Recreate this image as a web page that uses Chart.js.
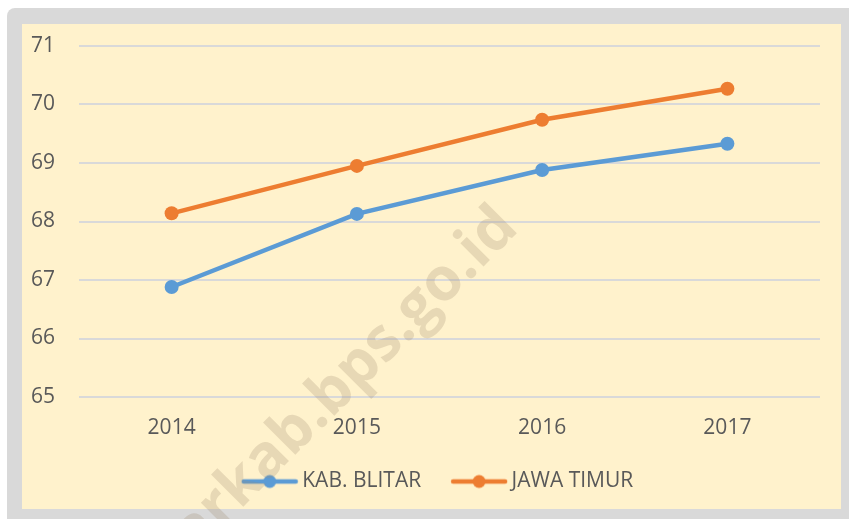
<!DOCTYPE html>
<html>
<head>
<meta charset="utf-8">
<script src="https://cdn.jsdelivr.net/npm/chart.js@4"></script>
<style>
  html, body { margin: 0; padding: 0; background: #ffffff; }
  #wrap { width: 849px; height: 519px; position: relative; }
</style>
</head>
<body>
<div id="wrap"><canvas id="ipm"></canvas></div>
<script>
// data
var years = ["2014", "2015", "2016", "2017"];
var kabBlitar = [66.88, 68.13, 68.88, 69.33];
var jawaTimur = [68.14, 68.95, 69.74, 70.27];
var yTicks = [65, 66, 67, 68, 69, 70, 71];

var blue = "#5B9BD5";
var orange = "#ED7D31";
var textColor = "#595959";
var font = "'Open Sans', 'Noto Sans', sans-serif";

// line+dot picture for the legend (shifted right so text sits close)
function legendIcon(color){
    var c = document.createElement("canvas");
    c.width = 70; c.height = 16;
    var g = c.getContext("2d");
    g.strokeStyle = color;
    g.lineWidth = 4.5;
    g.lineCap = "round";
    g.beginPath(); g.moveTo(15, 8); g.lineTo(67, 8); g.stroke();
    g.fillStyle = color;
    g.beginPath(); g.arc(41, 8, 6.5, 0, Math.PI * 2); g.fill();
    return c;
}

// frame + cream background
var framePlugin = {
    id: "frame",
    beforeDraw: function(chart){
        var ctx = chart.ctx;
        ctx.save();
        ctx.fillStyle = "#ffffff";
        ctx.fillRect(0, 0, chart.width, chart.height);
        ctx.fillStyle = "#D9D9D9";
        ctx.beginPath();
        ctx.roundRect(7, 8, chart.width + 20, chart.height + 20, 8);
        ctx.fill();
        ctx.fillStyle = "#FFF2CC";
        ctx.fillRect(22, 24, 819, 485);
        ctx.restore();
    }
};

// nudge the legend a bit to the right, like the original
var legendShift = {
    id: "legendShift",
    afterLayout: function(chart){
        if (chart.legend) { chart.legend.left += 27; }
    }
};

// watermark on top
var watermarkPlugin = {
    id: "watermark",
    afterDraw: function(chart){
        var ctx = chart.ctx;
        ctx.save();
        ctx.translate(520, 230);
        ctx.rotate(-Math.PI / 4);
        ctx.font = "bold 60px " + font;
        ctx.textAlign = "right";
        ctx.textBaseline = "alphabetic";
        ctx.fillStyle = "rgba(160, 140, 110, 0.25)";
        ctx.fillText("blitarkab.bps.go.id", 0, 0);
        ctx.restore();
    }
};

var ctx = document.getElementById("ipm");
var graph = new Chart(ctx, {
    type: "line",
    data: {
        labels: years,
        datasets: [{
            label: "KAB. BLITAR",
            data: kabBlitar,
            borderColor: blue,
            backgroundColor: blue,
            borderWidth: 4.5,
            pointRadius: 7,
            pointHoverRadius: 7,
            pointBorderWidth: 0,
            tension: 0
        }, {
            label: "JAWA TIMUR",
            data: jawaTimur,
            borderColor: orange,
            backgroundColor: orange,
            borderWidth: 4.5,
            pointRadius: 7,
            pointHoverRadius: 7,
            pointBorderWidth: 0,
            tension: 0
        }]
    },
    options: {
        responsive: true,
        maintainAspectRatio: false,
        animation: false,
        layout: {
            padding: { left: 22, right: 29, top: 46, bottom: 17 }
        },
        scales: {
            x: {
                offset: true,
                grid: { display: false, drawTicks: false },
                border: { display: false },
                ticks: { color: textColor, font: { family: font, size: 21 }, padding: 18 },
                afterFit: function(s){ s.height = 50; }
            },
            y: {
                min: 65,
                max: 71,
                afterBuildTicks: function(s){ s.ticks = yTicks.map(function(v){ return { value: v }; }); },
                grid: { color: "#D9D9D9", lineWidth: 2, drawTicks: false },
                border: { display: false },
                ticks: { color: textColor, font: { family: font, size: 21 }, padding: 24 },
                afterFit: function(s){ s.width = 57; }
            }
        },
        plugins: {
            legend: {
                position: "bottom",
                labels: {
                    color: textColor,
                    font: { family: font, size: 21 },
                    usePointStyle: true,
                    pointStyleWidth: 56,
                    padding: 24,
                    generateLabels: function(chart){
                        return chart.data.datasets.map(function(ds, i){
                            return {
                                text: ds.label,
                                fillStyle: ds.borderColor,
                                strokeStyle: ds.borderColor,
                                pointStyle: legendIcon(ds.borderColor),
                                fontColor: textColor,
                                datasetIndex: i,
                                hidden: false
                            };
                        });
                    }
                }
            },
            tooltip: { enabled: false }
        }
    },
    plugins: [framePlugin, legendShift, watermarkPlugin]
});
</script>
</body>
</html>
